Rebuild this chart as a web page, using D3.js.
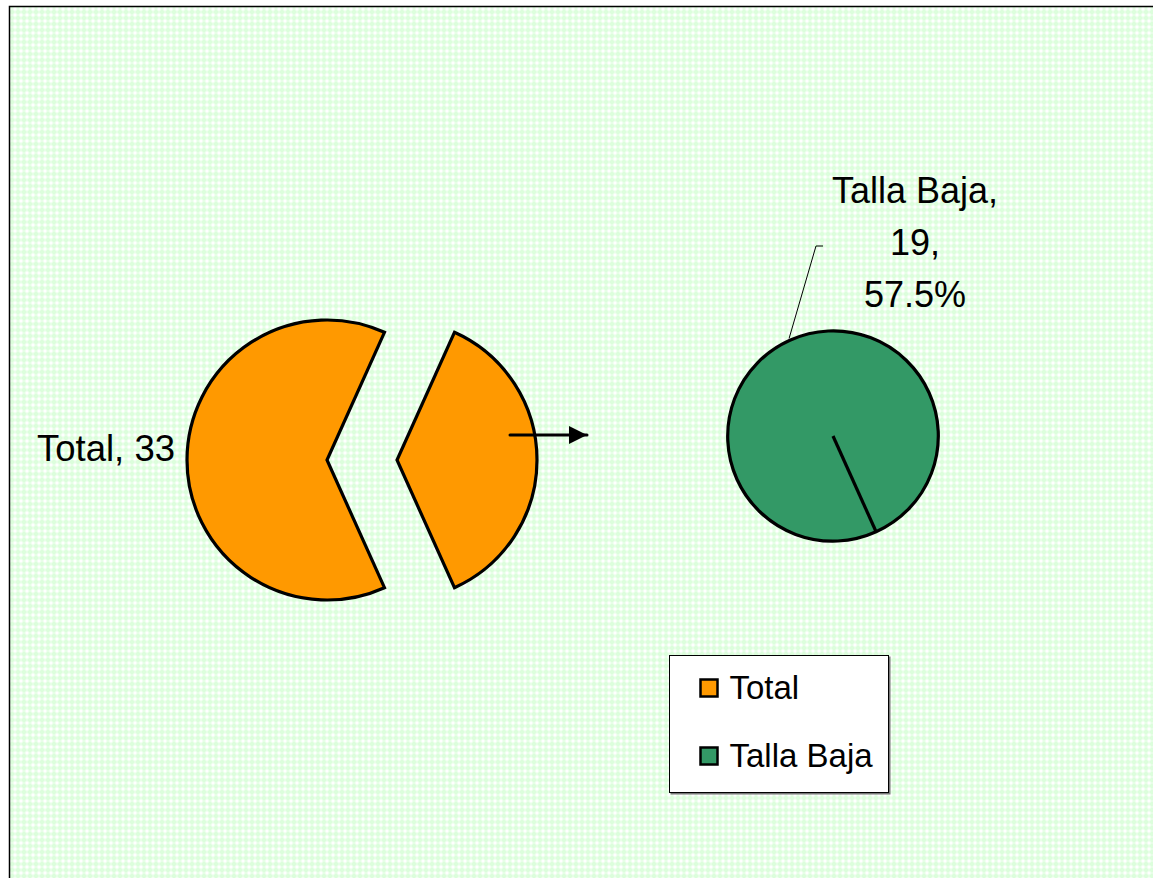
<!doctype html>
<html>
<head>
    <style>
        body { margin: 0; background: #fff; }
        text {
            font-family: 'Liberation Sans', Arial, sans-serif;
            fill: black;
        }
    </style>
    <script src="https://d3js.org/d3.v7.min.js"></script>
</head>
<body>
    <script>
        /*** data ***/
        var categories = ["Total", "Talla Baja"];
        var values = [33, 19];
        var colors = ["#FF9900", "#339966"];
        var mainLabel = "Total, 33";
        var splitLabel = ["Talla Baja,", "19,", "57.5%"];

        var width = 1153, height = 878;

        var svg = d3.select("body").append("svg")
            .attr("width", width)
            .attr("height", height);

        // light green patterned background
        var defs = svg.append("defs");
        var pat = defs.append("pattern")
            .attr("id", "bg")
            .attr("patternUnits", "userSpaceOnUse")
            .attr("width", 6).attr("height", 6);
        pat.append("rect").attr("width", 6).attr("height", 6).attr("fill", "#dcfedc");
        pat.append("path").attr("d", "M3,0L6,3L3,6L0,3Z").attr("fill", "#f2fff2");
        pat.append("rect").attr("x", 2).attr("y", 2).attr("width", 2).attr("height", 2).attr("fill", "#ffffff");

        defs.append("marker")
            .attr("id", "head")
            .attr("viewBox", "0 0 10 10")
            .attr("refX", 10).attr("refY", 5)
            .attr("markerWidth", 6.5).attr("markerHeight", 6)
            .attr("markerUnits", "strokeWidth")
            .attr("orient", "auto")
          .append("path")
            .attr("d", "M0,0L10,5L0,10Z")
            .attr("fill", "black");

        svg.append("rect")
            .attr("x", 9.5).attr("y", 6.5)
            .attr("width", 1300).attr("height", 1000)
            .attr("fill", "url(#bg)")
            .attr("stroke", "black")
            .attr("stroke-width", 1.5);

        /*** first pie: Total + Talla Baja, the second one split off ***/
        var total = d3.sum(values);
        var splitAngle = 2 * Math.PI * values[1] / total;
        // put the middle of the split slice pointing right
        var start = Math.PI / 2 - (2 * Math.PI * values[0] / total + splitAngle / 2);

        var pie = d3.pie().sort(null)
            .startAngle(start)
            .endAngle(start + 2 * Math.PI);
        var arcs = pie(values);

        var cx1 = 327, cy1 = 460, r1 = 140, explode = 70;
        var arc1 = d3.arc().innerRadius(0).outerRadius(r1);

        var g1 = svg.append("g").attr("transform", "translate(" + cx1 + "," + cy1 + ")");
        g1.selectAll("path")
            .data(arcs)
          .enter().append("path")
            .attr("d", arc1)
            .attr("transform", function(d, i) {
                if (i == 0) return null;
                var mid = (d.startAngle + d.endAngle) / 2;
                return "translate(" + (Math.sin(mid) * explode) + "," + (-Math.cos(mid) * explode) + ")";
            })
            .attr("fill", colors[0])
            .attr("stroke", "black")
            .attr("stroke-width", 3.2)
            .attr("stroke-linejoin", "miter");

        g1.append("text")
            .attr("x", -r1 - 12)
            .attr("y", 1)
            .attr("text-anchor", "end")
            .style("font-size", "36.5px")
            .text(mainLabel);

        /*** second pie: only Talla Baja ***/
        var cx2 = 833, cy2 = 436, r2 = 105;
        var g2 = svg.append("g").attr("transform", "translate(" + cx2 + "," + cy2 + ")");
        var s2 = arcs[1].endAngle;
        var pie2 = d3.pie().sort(null).startAngle(s2).endAngle(s2 + 2 * Math.PI);
        var arcs2 = pie2([values[1]]);
        var arc2 = d3.arc().innerRadius(0).outerRadius(r2);

        g2.selectAll("path.slice")
            .data(arcs2)
          .enter().append("path")
            .attr("class", "slice")
            .attr("d", arc2)
            .attr("fill", colors[1])
            .attr("stroke", "black")
            .attr("stroke-width", 3.2);

        // slice edge
        g2.append("line")
            .attr("x1", 0).attr("y1", 0)
            .attr("x2", Math.sin(s2) * r2).attr("y2", -Math.cos(s2) * r2)
            .attr("stroke", "black")
            .attr("stroke-width", 3.2);

        // leader line + data label
        var mid2 = (arcs2[0].startAngle + arcs2[0].endAngle) / 2;
        var ex = Math.sin(mid2) * (r2 + 2), ey = -Math.cos(mid2) * (r2 + 2);
        g2.append("path")
            .attr("d", "M" + ex + "," + ey + "L" + (-17) + "," + (-190) + "L" + (-10) + "," + (-190))
            .attr("fill", "none")
            .attr("stroke", "black")
            .attr("stroke-width", 1);

        g2.selectAll("text.lab")
            .data(splitLabel)
          .enter().append("text")
            .attr("class", "lab")
            .attr("x", 82)
            .attr("y", function(d, i) { return -233 + i * 52; })
            .attr("text-anchor", "middle")
            .style("font-size", "36px")
            .text(function(d) { return d; });

        /*** arrow between pies ***/
        svg.append("line")
            .attr("x1", 510).attr("y1", cy2 - 1)
            .attr("x2", 587).attr("y2", cy2 - 1)
            .attr("stroke", "black")
            .attr("stroke-width", 3)
            .attr("stroke-linecap", "round")
            .attr("marker-end", "url(#head)");

        /*** legend ***/
        var legend = svg.append("g").attr("transform", "translate(669.5,655.5)");
        legend.append("rect")
            .attr("x", 1).attr("y", 1)
            .attr("width", 220).attr("height", 138)
            .attr("fill", "#777");
        legend.append("rect")
            .attr("width", 219).attr("height", 137)
            .attr("fill", "white")
            .attr("stroke", "black")
            .attr("stroke-width", 1);

        var items = legend.selectAll("g.item")
            .data(categories)
          .enter().append("g")
            .attr("class", "item")
            .attr("transform", function(d, i) { return "translate(31," + (24 + i * 68) + ")"; });
        items.append("rect")
            .attr("width", 17).attr("height", 17)
            .attr("fill", function(d, i) { return colors[i]; })
            .attr("stroke", "black")
            .attr("stroke-width", 2.5);
        items.append("text")
            .attr("x", 29)
            .attr("y", 19)
            .style("font-size", "33px")
            .text(function(d) { return d; });
    </script>
</body>
</html>
